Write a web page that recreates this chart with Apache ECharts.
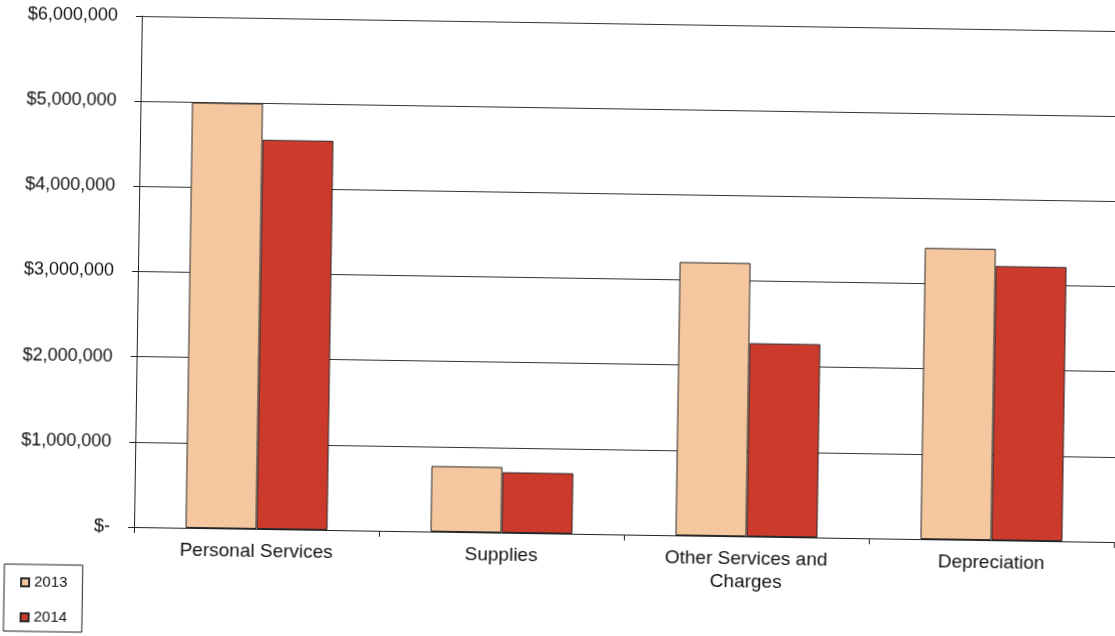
<!DOCTYPE html>
<html>
<head>
<meta charset="utf-8">
<script src="https://cdn.jsdelivr.net/npm/echarts@6/dist/echarts.min.js"></script>
<style>
html, body { margin: 0; padding: 0; background: #fff; overflow: hidden; }
#chart { width: 1115px; height: 636px; transform: rotate(0.88deg); transform-origin: 134px 527px; }
</style>
</head>
<body>
<div id="chart"></div>
<script>
var categories = ['Personal Services', 'Supplies', 'Other Services and\nCharges', 'Depreciation'];
var seriesNames = ['2013', '2014'];
var values2013 = [4995000, 770000, 3210000, 3420000];
var values2014 = [4570000, 710000, 2270000, 3220000];
var yTickLabels = ['$-', '$1,000,000', '$2,000,000', '$3,000,000', '$4,000,000', '$5,000,000', '$6,000,000'];

var FONT = "'Liberation Sans', Arial, sans-serif";
var chart = echarts.init(document.getElementById('chart'), null, { renderer: 'canvas' });
chart.setOption({
  animation: false,
  backgroundColor: '#ffffff',
  textStyle: { fontFamily: FONT },
  grid: { left: 134, top: 16, right: 1, bottom: 109, containLabel: false },
  legend: {
    orient: 'vertical',
    left: 5,
    top: 566,
    data: seriesNames,
    icon: 'rect',
    itemWidth: 8,
    itemHeight: 8,
    itemGap: 19,
    padding: [10, 15, 6, 16],
    borderColor: '#222',
    borderWidth: 1,
    textStyle: { fontSize: 15, color: '#111', fontFamily: FONT, lineHeight: 16 }
  },
  xAxis: {
    type: 'category',
    data: categories,
    axisLine: { show: true, lineStyle: { color: '#222', width: 1 } },
    axisTick: { show: true, length: 6, alignWithLabel: false, lineStyle: { color: '#222' } },
    axisLabel: { fontSize: 19, color: '#111', margin: 11, lineHeight: 23, fontFamily: FONT, interval: 0 }
  },
  yAxis: {
    type: 'value',
    min: 0,
    max: 6000000,
    interval: 1000000,
    axisLine: { show: true, lineStyle: { color: '#222', width: 1 } },
    axisTick: { show: true, length: 6, lineStyle: { color: '#222' } },
    splitLine: { show: true, lineStyle: { color: '#333', width: 1 } },
    axisLabel: {
      fontSize: 18, color: '#111', margin: 24, fontFamily: FONT,
      formatter: function (v) { return yTickLabels[Math.round(v / 1000000)]; }
    }
  },
  series: [
    {
      name: seriesNames[0], type: 'bar', data: values2013,
      barWidth: 71, barGap: '0%',
      itemStyle: { color: '#F5C79E', borderColor: '#2a2a2a', borderWidth: 1 }
    },
    {
      name: seriesNames[1], type: 'bar', data: values2014,
      barWidth: 71, barGap: '0%',
      itemStyle: { color: '#CC3A2B', borderColor: '#2a2a2a', borderWidth: 1 }
    }
  ]
});
</script>
</body>
</html>
